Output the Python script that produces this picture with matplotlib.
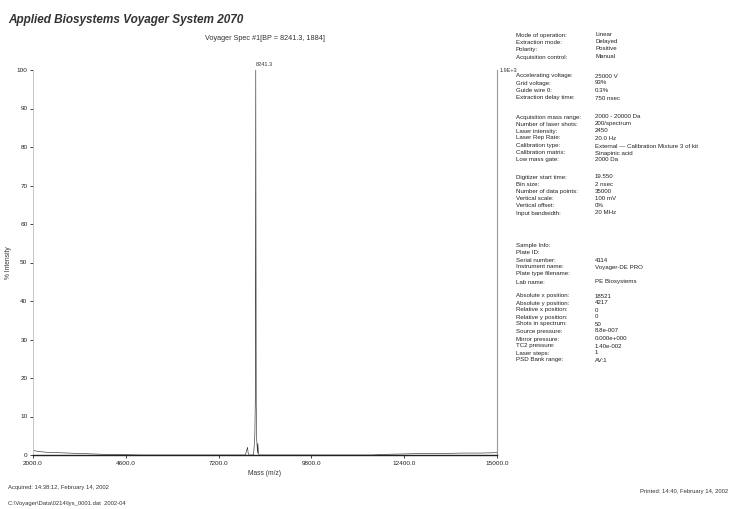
import matplotlib
matplotlib.use("Agg")
import matplotlib.pyplot as plt

plt.rcParams['font.family'] = ['Liberation Sans', 'DejaVu Sans']

# Spectrum (mass in Da, % intensity)
masses = [2000.0, 2150.0, 2400.0, 2700.0, 3000.0, 3300.0, 3600.0, 3900.0,
          5000.0, 6000.0, 7000.0, 7700.0, 7950.0, 8010.0, 8030.0, 8060.0,
          8180.0, 8215.0, 8228.0, 8241.3, 8254.0, 8268.0, 8290.0, 8300.0,
          8318.0, 8340.0, 8600.0, 9500.0, 10500.0, 11500.0, 12000.0, 12500.0,
          13000.0, 13500.0, 14000.0, 14500.0, 15000.0]
intensity = [1.2, 0.9, 0.7, 0.6, 0.5, 0.4, 0.3, 0.2,
             0.0, 0.0, 0.0, 0.0, 0.0, 2.0, 0.4, 0.0,
             0.0, 5.0, 14.0, 100.0, 13.0, 4.0, 0.5, 3.0,
             0.3, 0.0, 0.0, 0.0, 0.0, 0.0, 0.2, 0.3,
             0.4, 0.4, 0.5, 0.5, 0.6]

base_peak_mass = 8241.3
base_peak_counts = "1.9E+3"

x_ticks = [2000.0, 4600.0, 7200.0, 9800.0, 12400.0, 15000.0]
y_ticks = [0, 10, 20, 30, 40, 50, 60, 70, 80, 90, 100]

title = "Applied Biosystems Voyager System 2070"
subtitle = "Voyager Spec #1[BP = 8241.3, 1884]"

info_rows = [
    (35, "Mode of operation:", "Linear"),
    (42, "Extraction mode:", "Delayed"),
    (49, "Polarity:", "Positive"),
    (57, "Acquisition control:", "Manual"),
    (76, "Accelerating voltage:", "25000 V"),
    (83, "Grid voltage:", "93%"),
    (90, "Guide wire 0:", "0.3%"),
    (98, "Extraction delay time:", "750 nsec"),
    (117, "Acquisition mass range:", "2000 - 20000 Da"),
    (124, "Number of laser shots:", "200/spectrum"),
    (131, "Laser intensity:", "2450"),
    (138, "Laser Rep Rate:", "20.0 Hz"),
    (146, "Calibration type:", "External \u2014 Calibration Mixture 3 of kit"),
    (153, "Calibration matrix:", "Sinapinic acid"),
    (160, "Low mass gate:", "2000 Da"),
    (177, "Digitizer start time:", "19.550"),
    (184, "Bin size:", "2 nsec"),
    (191, "Number of data points:", "35000"),
    (198, "Vertical scale:", "100 mV"),
    (206, "Vertical offset:", "0%"),
    (213, "Input bandwidth:", "20 MHz"),
    (245, "Sample Info:", ""),
    (253, "Plate ID:", ""),
    (260, "Serial number:", "4114"),
    (267, "Instrument name:", "Voyager-DE PRO"),
    (274, "Plate type filename:", ""),
    (282, "Lab name:", "PE Biosystems"),
    (296, "Absolute x position:", "18521"),
    (303, "Absolute y position:", "4217"),
    (310, "Relative x position:", "0"),
    (317, "Relative y position:", "0"),
    (324, "Shots in spectrum:", "50"),
    (331, "Source pressure:", "8.8e-007"),
    (339, "Mirror pressure:", "0.000e+000"),
    (346, "TC2 pressure:", "1.40e-002"),
    (353, "Laser steps:", "1"),
    (360, "PSD Bank range:", "AV:1"),
]

W, H = 734, 509
fig = plt.figure(figsize=(W / 100, H / 100), dpi=100)
fig.patch.set_facecolor("white")

def fy(py):
    return 1 - py / H

def fx(px):
    return px / W

ax = fig.add_axes([fx(33), fy(455), fx(497) - fx(33), fy(70) - fy(455)])
ax.plot(masses, intensity, color="#333333", lw=0.45)
ax.set_xlim(x_ticks[0], x_ticks[-1])
ax.set_ylim(0, 100)
ax.set_xticks(x_ticks)
ax.set_xticklabels([f"{v:.1f}" for v in x_ticks])
ax.set_yticks(y_ticks)
ax.set_yticklabels([str(v) for v in y_ticks])
ax.tick_params(labelsize=4.6, colors="#222222", length=2, width=0.6, pad=2)
ax.set_xlabel("Mass (m/z)", fontsize=4.8, color="#333333", labelpad=3)
ax.set_ylabel("% Intensity", fontsize=4.8, color="#333333", labelpad=3)
ax.spines["top"].set_visible(False)
ax.spines["left"].set_color("#bbbbbb")
ax.spines["left"].set_linewidth(0.6)
ax.spines["right"].set_color("#999999")
ax.spines["right"].set_linewidth(0.8)
ax.spines["bottom"].set_color("#222222")
ax.spines["bottom"].set_linewidth(1.0)

ax.text(base_peak_mass, 100.8, f"{base_peak_mass:.1f}", fontsize=4, color="#333333",
        ha="left", va="bottom", clip_on=False)
ax.text(1.005, 1.0, base_peak_counts, transform=ax.transAxes, fontsize=4,
        color="#333333", ha="left", va="center", clip_on=False)

fig.text(fx(8), fy(20), title, fontsize=8.5, fontstyle="italic", fontweight="bold",
         color="#333333", ha="left", va="center")
fig.text(fx(325), fy(38), subtitle, fontsize=5.2, color="#333333", ha="right", va="center")

for py, label, value in info_rows:
    fig.text(fx(516), fy(py), label, fontsize=4.4, color="#222222", ha="left", va="center")
    if value:
        fig.text(fx(595), fy(py), value, fontsize=4.4, color="#222222", ha="left", va="center")

fig.text(fx(8), fy(487), "Acquired: 14:38:12, February 14, 2002", fontsize=4.2,
         color="#333333", ha="left", va="center")
fig.text(fx(8), fy(504), "C:\\Voyager\\Data\\0214\\lys_0001.dat  2002-04", fontsize=4.2,
         color="#333333", ha="left", va="center")
fig.text(fx(728), fy(492), "Printed: 14:40, February 14, 2002", fontsize=4.2,
         color="#333333", ha="right", va="center")

fig.savefig("out.png", dpi=100, facecolor="white")
